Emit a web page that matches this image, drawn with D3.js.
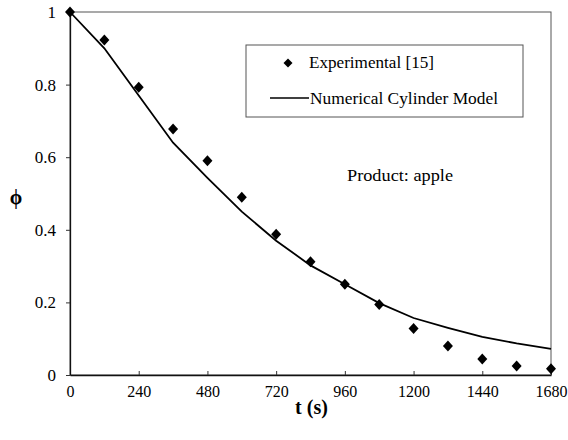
<!DOCTYPE html>
<html>
<head>
<meta charset="utf-8">
<script src="https://cdn.jsdelivr.net/npm/d3@7"></script>
</head>
<body style="margin:0">
<script>
// Data (phi vs time, apple)
const expTime = [0, 120, 240, 360, 480, 600, 720, 840, 960, 1080, 1200, 1320, 1440, 1560, 1680];
const expPhi = [1, 0.923, 0.793, 0.678, 0.59, 0.49, 0.388, 0.312, 0.25, 0.194, 0.128, 0.08, 0.044, 0.025, 0.017];
const modelTime = [0, 120, 240, 360, 480, 600, 720, 840, 960, 1080, 1200, 1320, 1440, 1560, 1680];
const modelPhi = [1, 0.9, 0.77, 0.64, 0.543, 0.45, 0.37, 0.302, 0.25, 0.198, 0.157, 0.13, 0.105, 0.087, 0.072];
const xTicks = [0, 240, 480, 720, 960, 1200, 1440, 1680];
const yTicks = [0, 0.2, 0.4, 0.6, 0.8, 1];

const width = 568, height = 440;
const margin = { top: 12, right: 17, bottom: 65, left: 70 };
const serif = "'Liberation Serif'";

const svg = d3.select("body").append("svg")
  .attr("width", width)
  .attr("height", height)
  .style("font-family", serif);

const x = d3.scaleLinear().domain([0, 1680]).range([margin.left, width - margin.right]);
const y = d3.scaleLinear().domain([0, 1]).range([height - margin.bottom, margin.top]);

// Plot frame
svg.append("rect")
  .attr("x", x(0)).attr("y", y(1))
  .attr("width", x(1680) - x(0)).attr("height", y(0) - y(1))
  .attr("fill", "none").attr("stroke", "#555").attr("stroke-width", 1);

// X axis (ticks point inward)
const xAxis = svg.append("g")
  .attr("transform", `translate(0,${y(0)})`)
  .call(d3.axisBottom(x).tickValues(xTicks).tickSizeInner(-4).tickSizeOuter(0).tickPadding(11).tickFormat(d3.format("d")));
xAxis.attr("font-family", null).attr("font-size", null);
xAxis.select(".domain").attr("stroke", "#111").attr("stroke-width", 1.3);
xAxis.selectAll(".tick line").attr("stroke", "#333");
xAxis.selectAll("text").style("font-family", serif).style("font-size", "16px").attr("fill", "#000");

// Y axis (ticks point outward)
const yAxis = svg.append("g")
  .attr("transform", `translate(${x(0)},0)`)
  .call(d3.axisLeft(y).tickValues(yTicks).tickSizeInner(4).tickSizeOuter(0).tickPadding(10).tickFormat(d => d === 0 || d === 1 ? d3.format("d")(d) : d3.format(".1f")(d)));
yAxis.attr("font-family", null).attr("font-size", null);
yAxis.select(".domain").attr("stroke", "#111").attr("stroke-width", 1.3);
yAxis.selectAll(".tick line").attr("stroke", "#333");
yAxis.selectAll("text").style("font-family", serif).style("font-size", "17px").attr("fill", "#000");

// Axis titles
svg.append("text")
  .attr("x", (x(0) + x(1680)) / 2 + 1)
  .attr("y", 414)
  .attr("text-anchor", "middle")
  .style("font-family", serif)
  .style("font-size", "20px")
  .style("font-weight", "bold")
  .text("t (s)");

svg.append("text")
  .attr("x", 16)
  .attr("y", 204)
  .attr("text-anchor", "middle")
  .style("font-family", serif)
  .style("font-size", "20px")
  .style("font-weight", "bold")
  .text("ϕ");

// Model line
const line = d3.line().x((d, i) => x(modelTime[i])).y(d => y(d));
svg.append("path")
  .datum(modelPhi)
  .attr("d", line)
  .attr("fill", "none")
  .attr("stroke", "#000")
  .attr("stroke-width", 1.8);

// Experimental points (diamonds)
const diamond = "M0,-5.5L5,0L0,5.5L-5,0Z";
svg.append("g").selectAll("path")
  .data(expPhi)
  .join("path")
  .attr("d", diamond)
  .attr("transform", (d, i) => `translate(${x(expTime[i])},${y(d)})`)
  .attr("fill", "#000");

// Legend
const legend = svg.append("g");
legend.append("rect")
  .attr("x", 246).attr("y", 45)
  .attr("width", 277).attr("height", 72)
  .attr("fill", "#fff").attr("stroke", "#555").attr("stroke-width", 1);
legend.append("path")
  .attr("d", "M0,-4.5L4.5,0L0,4.5L-4.5,0Z")
  .attr("transform", "translate(288,63)")
  .attr("fill", "#000");
legend.append("text")
  .attr("x", 309).attr("y", 68)
  .attr("textLength", 125).attr("lengthAdjust", "spacingAndGlyphs")
  .style("font-family", serif).style("font-size", "17px")
  .text("Experimental [15]");
legend.append("line")
  .attr("x1", 270).attr("x2", 309)
  .attr("y1", 98).attr("y2", 98)
  .attr("stroke", "#000").attr("stroke-width", 1.6);
legend.append("text")
  .attr("x", 310).attr("y", 104)
  .attr("textLength", 188).attr("lengthAdjust", "spacingAndGlyphs")
  .style("font-family", serif).style("font-size", "17px")
  .text("Numerical Cylinder Model");

// Annotation
svg.append("text")
  .attr("x", 347).attr("y", 181)
  .attr("textLength", 106).attr("lengthAdjust", "spacingAndGlyphs")
  .style("font-family", serif).style("font-size", "17px")
  .text("Product: apple");
</script>
</body>
</html>
